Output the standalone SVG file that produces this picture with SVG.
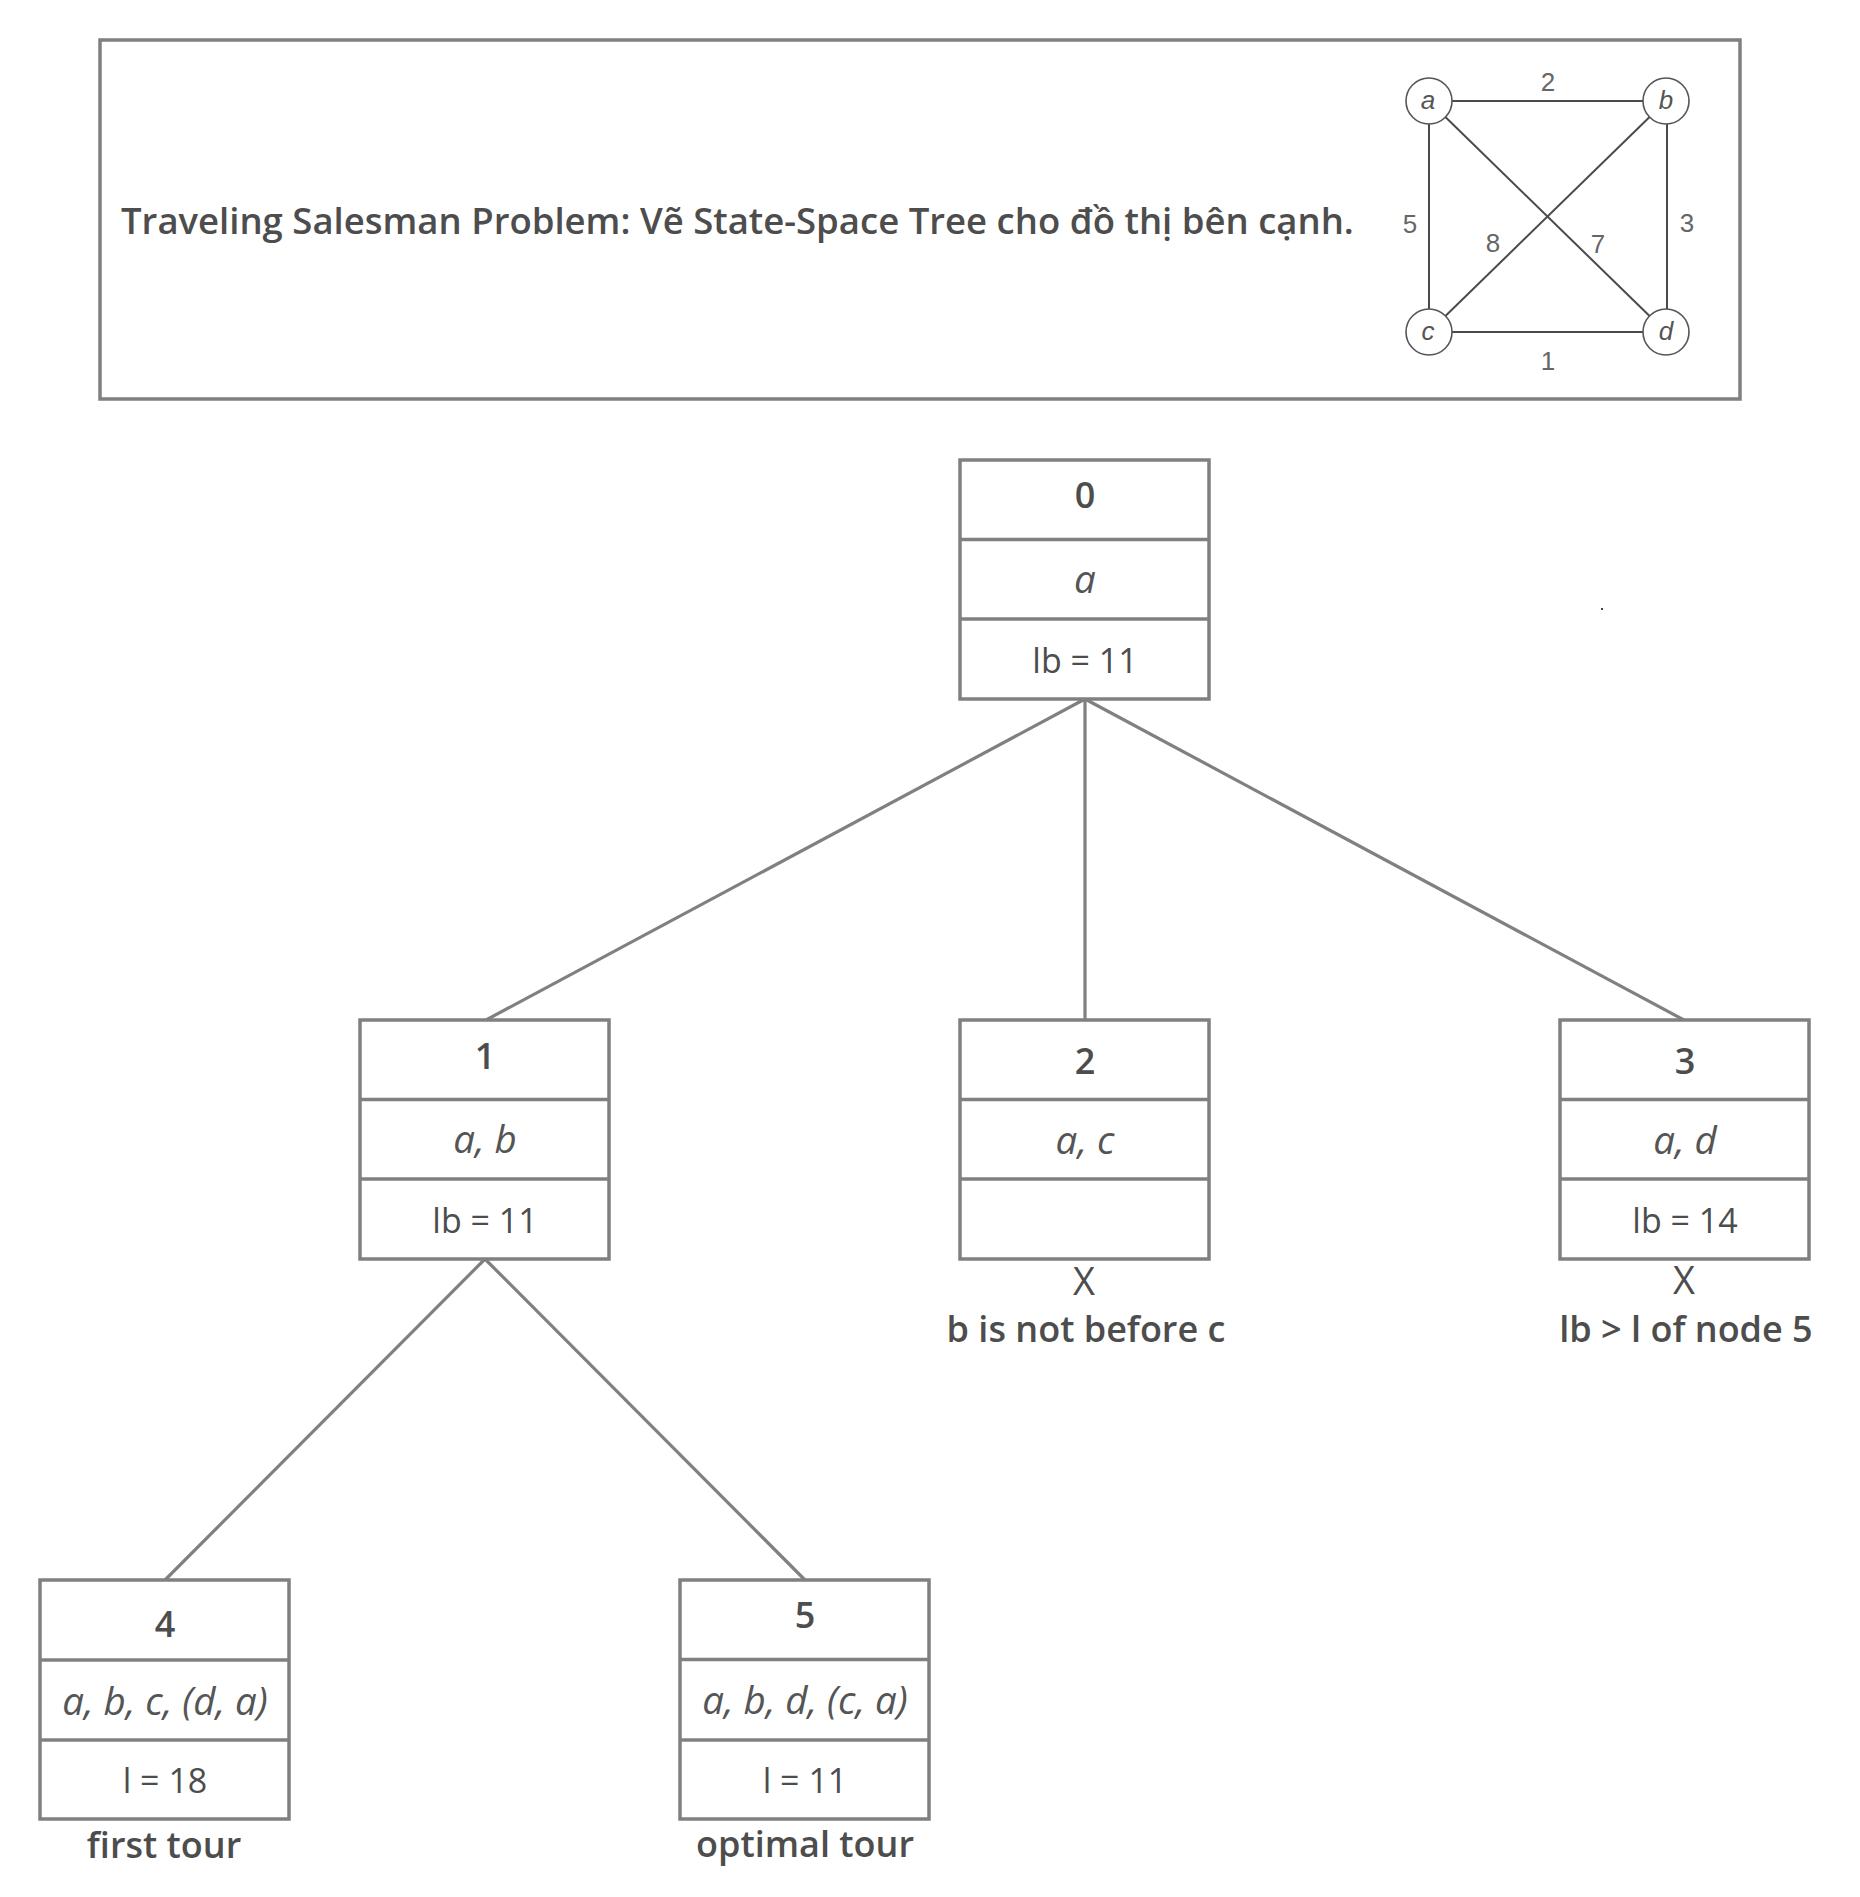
<svg xmlns="http://www.w3.org/2000/svg" width="1860" height="1897" viewBox="0 0 1860 1897">
<style>
.box{fill:#ffffff;stroke:#808080;stroke-width:3.5}
.div{stroke:#808080;stroke-width:3.5}
.conn{stroke:#808080;stroke-width:3.2;fill:none}
.t{font-family:"Open Sans","Noto Sans","DejaVu Sans",sans-serif;fill:#4d4d4d;text-anchor:middle}
.num{font-size:36px;font-weight:600}
.it{font-size:38.5px;font-style:italic;fill:#555555}
.rg{font-size:34px}
.lab{font-size:36px;font-weight:600}
.x{font-size:38px}
.ge{stroke:#4a4a4a;stroke-width:2;fill:none}
.gn{fill:#ffffff;stroke:#555555;stroke-width:1.6}
.gl{font-family:"Liberation Sans",Arial,sans-serif;font-size:26px;fill:#666666;text-anchor:middle}
.gv{font-family:"Liberation Sans",Arial,sans-serif;font-size:26px;font-style:italic;fill:#555555;text-anchor:middle}
</style>
<rect width="1860" height="1897" fill="#ffffff"/>
<g id="header">
<rect x="100" y="40" width="1640" height="359" fill="none" stroke="#808080" stroke-width="3.5"/>
<text x="121" y="234" font-family="'Open Sans','Noto Sans',sans-serif" font-size="36.5" font-weight="600" fill="#4d4d4d">Traveling Salesman Problem: Vẽ State-Space Tree cho đồ thị bên cạnh.</text>
</g>
<g id="graph">
<line class="ge" x1="1429" y1="101" x2="1666" y2="101"/>
<line class="ge" x1="1429" y1="101" x2="1429" y2="332"/>
<line class="ge" x1="1667" y1="101" x2="1667" y2="332"/>
<line class="ge" x1="1429" y1="332" x2="1666" y2="332"/>
<line class="ge" x1="1429" y1="101" x2="1666" y2="332"/>
<line class="ge" x1="1666" y1="101" x2="1429" y2="332"/>
<circle class="gn" cx="1429" cy="101" r="23"/>
<circle class="gn" cx="1666" cy="101" r="23"/>
<circle class="gn" cx="1429" cy="332" r="23"/>
<circle class="gn" cx="1666" cy="332" r="23"/>
<text class="gv" x="1428" y="109">a</text>
<text class="gv" x="1666" y="109">b</text>
<text class="gv" x="1428" y="340">c</text>
<text class="gv" x="1666" y="340">d</text>
<text class="gl" x="1548" y="91">2</text>
<text class="gl" x="1410" y="233">5</text>
<text class="gl" x="1687" y="232">3</text>
<text class="gl" x="1493" y="252">8</text>
<text class="gl" x="1598" y="253">7</text>
<text class="gl" x="1548" y="370">1</text>
</g>
<rect x="1601" y="608" width="2" height="2" fill="#444444"/>
<g id="connectors">
<line class="conn" x1="1085" y1="699" x2="486" y2="1020"/>
<line class="conn" x1="1085" y1="699" x2="1085" y2="1020"/>
<line class="conn" x1="1085" y1="699" x2="1684" y2="1020"/>
<line class="conn" x1="485" y1="1259" x2="165" y2="1580"/>
<line class="conn" x1="485" y1="1259" x2="805" y2="1580"/>
</g>
<g id="node0">
<rect class="box" x="960" y="460" width="249" height="239"/>
<line class="div" x1="960" y1="539.5" x2="1209" y2="539.5"/>
<line class="div" x1="960" y1="619" x2="1209" y2="619"/>
<text class="t num" x="1085" y="508">0</text>
<text class="t it" x="1085" y="593">a</text>
<text class="t rg" x="1085" y="673">lb = 11</text>
</g>
<g id="node1">
<rect class="box" x="360" y="1020" width="249" height="239"/>
<line class="div" x1="360" y1="1099.5" x2="609" y2="1099.5"/>
<line class="div" x1="360" y1="1179" x2="609" y2="1179"/>
<text class="t num" x="485" y="1069">1</text>
<text class="t it" x="485" y="1153">a, b</text>
<text class="t rg" x="485" y="1233">lb = 11</text>
</g>
<g id="node2">
<rect class="box" x="960" y="1020" width="249" height="239"/>
<line class="div" x1="960" y1="1099.5" x2="1209" y2="1099.5"/>
<line class="div" x1="960" y1="1179" x2="1209" y2="1179"/>
<text class="t num" x="1085" y="1074">2</text>
<text class="t it" x="1085" y="1154">a, c</text>
<text class="t x" x="1084" y="1295">X</text>
<text class="t lab" x="1086" y="1342">b is not before c</text>
</g>
<g id="node3">
<rect class="box" x="1560" y="1020" width="249" height="239"/>
<line class="div" x1="1560" y1="1099.5" x2="1809" y2="1099.5"/>
<line class="div" x1="1560" y1="1179" x2="1809" y2="1179"/>
<text class="t num" x="1685" y="1074">3</text>
<text class="t it" x="1685" y="1154">a, d</text>
<text class="t rg" x="1685" y="1233">lb = 14</text>
<text class="t x" x="1684" y="1294">X</text>
<text class="t lab" x="1686" y="1342">lb &gt; l of node 5</text>
</g>
<g id="node4">
<rect class="box" x="40" y="1580" width="249" height="239"/>
<line class="div" x1="40" y1="1660" x2="289" y2="1660"/>
<line class="div" x1="40" y1="1740" x2="289" y2="1740"/>
<text class="t num" x="165" y="1637">4</text>
<text class="t it" x="165" y="1715">a, b, c, (d, a)</text>
<text class="t rg" x="165" y="1793">l = 18</text>
<text class="t lab" x="164" y="1858">first tour</text>
</g>
<g id="node5">
<rect class="box" x="680" y="1580" width="249" height="239"/>
<line class="div" x1="680" y1="1659.5" x2="929" y2="1659.5"/>
<line class="div" x1="680" y1="1740" x2="929" y2="1740"/>
<text class="t num" x="805" y="1628">5</text>
<text class="t it" x="805" y="1714">a, b, d, (c, a)</text>
<text class="t rg" x="805" y="1793">l = 11</text>
<text class="t lab" x="805" y="1857">optimal tour</text>
</g>
</svg>
